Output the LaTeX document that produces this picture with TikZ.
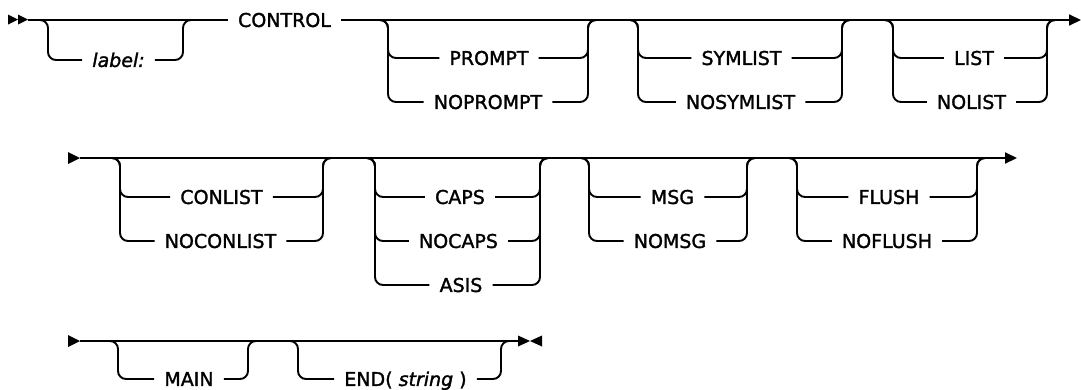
\documentclass[tikz,border=0pt]{standalone}
\usepackage{fontspec}
\setmainfont{DejaVu Sans}[UprightFeatures={FakeBold=1.6},ItalicFeatures={FakeBold=1.6}]
\usetikzlibrary{arrows.meta}

% One optional row of a syntax group:
% #1 left rail x, #2 right rail x, #3 main line y, #4 row y, #5 keyword node
\newcommand\optrow[5]{%
  \draw[rail] (#1-12,#3) -| (#1,#4) -- (#5.west);
  \draw[rail] (#5.east) -- (#2,#4) |- (#2+12,#3);
}

\begin{document}
\begin{tikzpicture}[x=1pt,y=-1pt,
  rail/.style={line width=1.9pt, rounded corners=8pt},
  kw/.style={font=\fontsize{19}{19}\selectfont, inner xsep=10pt, inner ysep=0pt,
             text height=13.9pt, text depth=0pt},
  endtip/.style={-{Triangle[length=12pt,width=11pt]}},
  railtip/.style={fill=black}
]
\useasboundingbox (0,0) rectangle (1081,389);

% ---------- first line ----------
\fill[railtip] (8,14.5) -- (18,19.5) -- (8,24.5) -- cycle;
\fill[railtip] (18,14.5) -- (28,19.5) -- (18,24.5) -- cycle;
\coordinate (s1) at (28,20);
\coordinate (e1) at (1081,20);

\node[kw] (ctrl)    at (284.5,20)  {CONTROL\hspace{10pt}};
\node[kw] (label)   at (118.5,60)  {\itshape label:\hspace{10pt}};
\node[kw] (prompt)  at (489,58)    {PROMPT\hspace{10pt}};
\node[kw] (noprompt) at (488,102)  {NOPROMPT\hspace{10pt}};
\node[kw] (symlist) at (741.5,58)  {SYMLIST\hspace{10pt}};
\node[kw] (nosymlist) at (740.5,102) {NOSYMLIST\hspace{10pt}};
\node[kw] (list)    at (974,58)    {LIST\hspace{10pt}};
\node[kw] (nolist)  at (971.5,102) {NOLIST\hspace{10pt}};

\draw[rail] (s1) -- (ctrl.west);
\draw[rail,endtip] (ctrl.east) -- (e1);
\optrow{48}{183}{20}{60}{label}
\optrow{388}{588}{20}{58}{prompt}
\optrow{388}{588}{20}{102}{noprompt}
\optrow{638}{842}{20}{58}{symlist}
\optrow{638}{842}{20}{102}{nosymlist}
\optrow{893}{1047}{20}{58}{list}
\optrow{893}{1047}{20}{102}{nolist}

% ---------- second line ----------
\fill[railtip] (68,152) -- (80,158) -- (68,164) -- cycle;
\coordinate (s2) at (80,158);
\coordinate (e2) at (1017,158);
\draw[rail,endtip] (s2) -- (e2);

\node[kw] (conlist)   at (221.5,197) {CONLIST\hspace{10pt}};
\node[kw] (noconlist) at (220.5,241) {NOCONLIST\hspace{10pt}};
\node[kw] (caps)      at (460,197)   {CAPS\hspace{10pt}};
\node[kw] (nocaps)    at (458.5,241) {NOCAPS\hspace{10pt}};
\node[kw] (asis)      at (461,285)   {ASIS\hspace{10pt}};
\node[kw] (msg)       at (672.5,197) {MSG\hspace{10pt}};
\node[kw] (nomsg)     at (670,241)   {NOMSG\hspace{10pt}};
\node[kw] (flush)     at (889,197)   {FLUSH\hspace{10pt}};
\node[kw] (noflush)   at (887,241)   {NOFLUSH\hspace{10pt}};

\optrow{120}{323}{158}{197}{conlist}
\optrow{120}{323}{158}{241}{noconlist}
\optrow{375}{540}{158}{197}{caps}
\optrow{375}{540}{158}{241}{nocaps}
\optrow{375}{540}{158}{285}{asis}
\optrow{589}{747}{158}{197}{msg}
\optrow{589}{747}{158}{241}{nomsg}
\optrow{797}{977}{158}{197}{flush}
\optrow{797}{977}{158}{241}{noflush}

% ---------- third line ----------
\fill[railtip] (68,335) -- (80,341) -- (68,347) -- cycle;
\coordinate (s3) at (80,341);
\coordinate (e3) at (518,341);
\draw[rail] (s3) -- (e3);
\fill[railtip] (518,335.5) -- (530,341) -- (518,346.5) -- cycle;
\fill[railtip] (542,335.5) -- (530,341) -- (542,346.5) -- cycle;

\node[kw] (main) at (189,379)   {MAIN\hspace{10pt}};
\node[kw] (end)  at (405.5,379) {END( \textit{string} )\hspace{10pt}};

\optrow{118}{248}{341}{379}{main}
\optrow{298}{501}{341}{379}{end}
\end{tikzpicture}
\end{document}
